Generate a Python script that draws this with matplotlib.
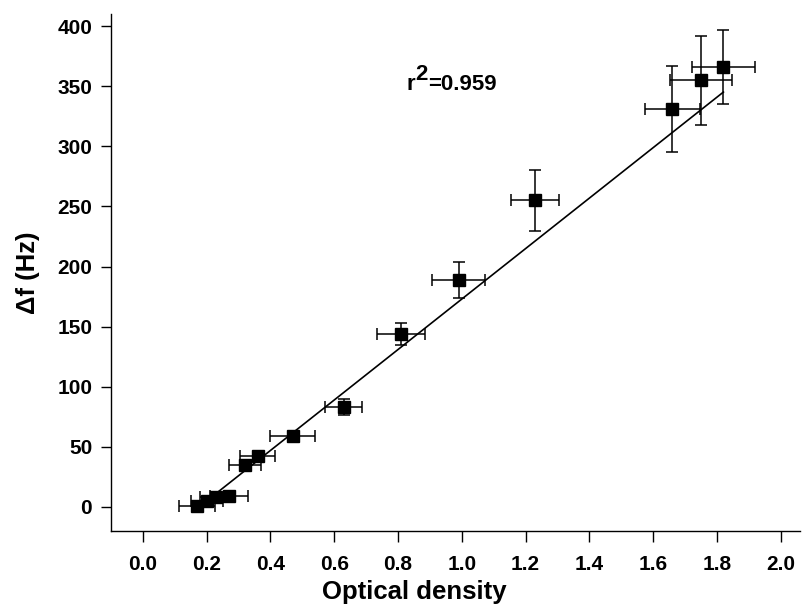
import matplotlib.pyplot as plt
import numpy as np

plt.rcParams['font.family'] = ['Liberation Sans', 'DejaVu Sans']
plt.rcParams['font.weight'] = 'bold'

# values
od = [0.17, 0.20, 0.23, 0.27, 0.32, 0.36, 0.47, 0.63, 0.81, 0.99, 1.23, 1.66, 1.75, 1.82]
df = [1, 5, 8, 9, 35, 42, 59, 83, 144, 189, 255, 331, 355, 366]
od_err = [0.057, 0.05, 0.05, 0.06, 0.05, 0.055, 0.07, 0.058, 0.075, 0.084, 0.075, 0.087, 0.096, 0.10]
df_err = [2, 2, 3, 2, 3, 3, 2, 6.5, 9, 15, 25, 36, 37, 31]

fit_slope = 210.0
fit_intercept = -37.0
r2_value = '=0.959'

xticks = np.arange(0, 2.01, 0.2)
yticks = np.arange(0, 401, 50)

fig = plt.figure(figsize=(8.04, 6.16), dpi=100)
ax = fig.add_axes([0.138, 0.138, 0.857, 0.839])

fit_x = np.array([min(od), max(od)])
ax.plot(fit_x, fit_slope * fit_x + fit_intercept, color='black', linewidth=1.2, zorder=2)

ax.errorbar(od, df, xerr=od_err, yerr=df_err, fmt='s', color='black',
            markersize=8, elinewidth=1.1, capsize=4, capthick=1.1, zorder=3)

# r^2 label with a full-size raised "2"
t1 = ax.text(0.827, 347, 'r', fontsize=16, fontweight='bold')
t2 = ax.annotate('2', xy=(1, 0.45), xycoords=t1, va='bottom', fontsize=16, fontweight='bold')
ax.annotate(r2_value, xy=(1, 0), xycoords=(t2, t1), va='bottom', fontsize=16, fontweight='bold')

ax.set_xlim(-0.1, 2.06)
ax.set_ylim(-20, 410)
ax.set_xticks(xticks)
ax.set_xticklabels([f'{t:.1f}' for t in xticks])
ax.set_yticks(yticks)

ax.spines['top'].set_visible(False)
ax.spines['right'].set_visible(False)
for s in ['left', 'bottom']:
    ax.spines[s].set_linewidth(1.0)
ax.tick_params(axis='y', direction='out', length=7.5, width=1.0, labelsize=15, pad=6)
ax.tick_params(axis='x', direction='out', length=8, width=1.0, labelsize=15, pad=9)

ax.set_xlabel('Optical density', fontsize=18.5, fontweight='bold')
ax.set_ylabel('Δf (Hz)', fontsize=18.5, fontweight='bold')
ax.xaxis.set_label_coords(0.44, -0.118)
ax.yaxis.set_label_coords(-0.12, 0.5)
ax.xaxis.label.set_va('center')
ax.yaxis.label.set_va('center')

fig.savefig('out.png', dpi=100)
